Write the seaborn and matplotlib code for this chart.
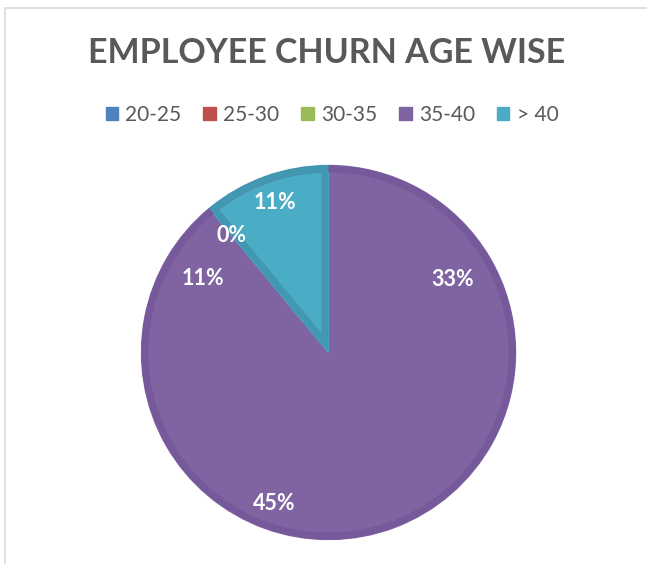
import matplotlib
matplotlib.use("Agg")
import matplotlib.pyplot as plt
from matplotlib.patches import Patch, Circle, Rectangle, Wedge
import seaborn as sns
import numpy as np

# ---- data ----
age_groups = ["20-25", "25-30", "30-35", "35-40", "> 40"]
churn_pct = [33, 45, 11, 0, 11]
pct_labels = ["33%", "45%", "11%", "0%", "11%"]
legend_colors = ["#4F81BD", "#C0504D", "#9BBB59", "#8064A2", "#4BACC6"]
slice_colors = ["#8064A2", "#8064A2", "#8064A2", "#8064A2", "#4BACC6"]
rim_colors = ["#76599A", "#76599A", "#76599A", "#76599A", "#4298B0"]
label_dist = [0.77, 0.86, 0.78, 0.81, 0.85]

sns.set_theme(style="white")
plt.rcParams["font.family"] = ["Lato", "DejaVu Sans"]

W, H = 647, 564
fig = plt.figure(figsize=(W / 100, H / 100), dpi=100)
fig.patch.set_facecolor("white")
ax = fig.add_axes([0, 0, 1, 1])

cx, cy, R = 328.5, H - 352.5, 187

wedges, _ = ax.pie(churn_pct, colors=slice_colors, startangle=90,
                   counterclock=False, radius=R, center=(cx, cy),
                   wedgeprops=dict(linewidth=1.0))
for w, c in zip(wedges, slice_colors):
    w.set_edgecolor(c)

# outer rim for the whole pie
ring = Circle((cx, cy), R, fill=False, edgecolor=rim_colors[0], linewidth=10)
ax.add_patch(ring)
ring.set_clip_path(Circle((cx, cy), R, transform=ax.transData))

# inner rim for the teal wedge
tw = wedges[4]
clipw = Wedge(tw.center, tw.r, tw.theta1, tw.theta2, transform=ax.transData)
rim = Wedge(tw.center, tw.r, tw.theta1, tw.theta2, fill=False,
            edgecolor=rim_colors[4], linewidth=10)
ax.add_patch(rim)
rim.set_clip_path(clipw)

for w, lab, d in zip(wedges, pct_labels, label_dist):
    ang = np.deg2rad((w.theta1 + w.theta2) / 2)
    x = cx + d * R * np.cos(ang)
    y = cy + d * R * np.sin(ang)
    ax.text(x, y, lab, ha="center", va="center", color="white",
            fontsize=15.5, fontweight="bold")

ax.set_xlim(0, W)
ax.set_ylim(0, H)
ax.set_aspect("auto")
ax.axis("off")

# chart frame
fig.patches.append(Rectangle((5 / W, -0.1), 1.2, 1.1 - 8 / H,
                             transform=fig.transFigure, fill=False,
                             edgecolor="#D9D9D9", linewidth=1.2))

fig.text(327 / W, 1 - 53 / H, "EMPLOYEE CHURN AGE WISE", ha="center",
         va="center", fontsize=24.5, fontweight="bold", color="#595959")

handles = [Patch(facecolor=c, edgecolor=c) for c in legend_colors]
leg = fig.legend(handles, age_groups, loc="center", ncol=5,
                 bbox_to_anchor=(332 / W, 1 - 115 / H), frameon=False,
                 fontsize=15, handlelength=0.6, handleheight=0.6,
                 handletextpad=0.35, columnspacing=1.05, labelcolor="#595959")

fig.savefig("out.png", dpi=100)
